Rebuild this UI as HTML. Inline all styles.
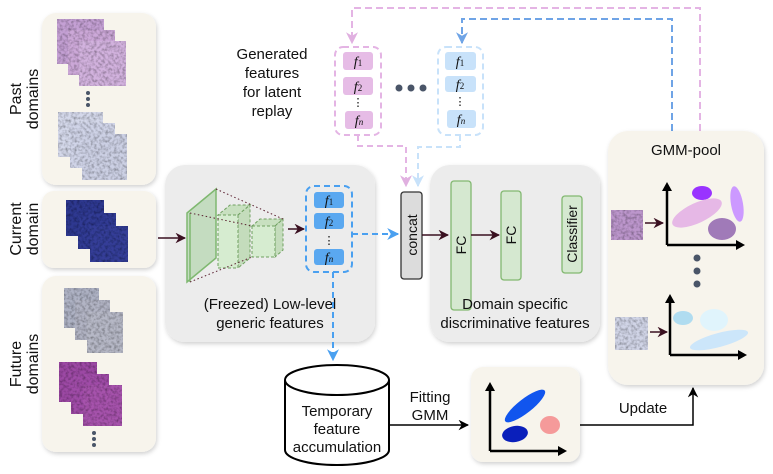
<!DOCTYPE html>
<html><head><meta charset="utf-8"><style>
html,body{margin:0;padding:0;background:#fff}
svg{display:block;font-family:"Liberation Sans",sans-serif}
</style></head><body>
<svg width="773" height="474" viewBox="0 0 773 474" xmlns="http://www.w3.org/2000/svg">
<defs>
<filter id="sh" x="-10%" y="-10%" width="120%" height="120%"><feDropShadow dx="1" dy="2" stdDeviation="2" flood-opacity="0.18"/></filter>
<filter id="tex" x="0" y="0" width="100%" height="100%"><feTurbulence type="fractalNoise" baseFrequency="0.35" numOctaves="2" seed="3"/><feColorMatrix type="matrix" values="0 0 0 0 0  0 0 0 0 0  0 0 0 0 0  0 0 0 -1.2 0.75"/><feComposite in2="SourceGraphic" operator="in"/><feBlend in="SourceGraphic" mode="multiply"/></filter>
<marker id="ad" viewBox="0 0 10 10" refX="9" refY="5" markerWidth="7" markerHeight="7" orient="auto"><path d="M0,0 L10,5 L0,10 L3,5z" fill="#3a1020"/></marker>
<marker id="ak" viewBox="0 0 10 10" refX="9" refY="5" markerWidth="7" markerHeight="7" orient="auto"><path d="M0,0 L10,5 L0,10 L3,5z" fill="#000"/></marker>
<marker id="ab" viewBox="0 0 10 10" refX="9" refY="5" markerWidth="6" markerHeight="6" orient="auto"><path d="M0,0 L10,5 L0,10 L3,5z" fill="#4aa0f0"/></marker>
<marker id="ap" viewBox="0 0 10 10" refX="9" refY="5" markerWidth="6" markerHeight="6" orient="auto"><path d="M0,0 L10,5 L0,10 L3,5z" fill="#e0b0e0"/></marker>
<marker id="alb" viewBox="0 0 10 10" refX="9" refY="5" markerWidth="6" markerHeight="6" orient="auto"><path d="M0,0 L10,5 L0,10 L3,5z" fill="#c8e2fa"/></marker>
<marker id="amb" viewBox="0 0 10 10" refX="9" refY="5" markerWidth="6" markerHeight="6" orient="auto"><path d="M0,0 L10,5 L0,10 L3,5z" fill="#6fa4e6"/></marker>
</defs>

<path d="M700,131 V8 H352 V43" fill="none" stroke="#e4b4e4" stroke-width="2" stroke-dasharray="7,4" marker-end="url(#ap)"/>
<path d="M672,131 V19 H462 V43" fill="none" stroke="#6fa4e6" stroke-width="2" stroke-dasharray="7,4" marker-end="url(#amb)"/>
<path d="M358,135 V146 H406 V186" fill="none" stroke="#e4b4e4" stroke-width="2" stroke-dasharray="6,4" marker-end="url(#ap)"/>
<path d="M460,135 V147 H418 V186" fill="none" stroke="#c8e2fa" stroke-width="2" stroke-dasharray="6,4" marker-end="url(#alb)"/>

<rect x="42" y="13" width="114" height="172" rx="14" fill="#f7f4ec" filter="url(#sh)"/>
<rect x="42" y="191" width="114" height="77" rx="12" fill="#f7f4ec" filter="url(#sh)"/>
<rect x="42" y="276" width="114" height="176" rx="14" fill="#f7f4ec" filter="url(#sh)"/>
<g font-size="16" fill="#111" text-anchor="middle">
<text transform="translate(21,99) rotate(-90)">Past</text>
<text transform="translate(38,99) rotate(-90)">domains</text>
<text transform="translate(21,229) rotate(-90)">Current</text>
<text transform="translate(38,229) rotate(-90)">domain</text>
<text transform="translate(21,364) rotate(-90)">Future</text>
<text transform="translate(38,364) rotate(-90)">domains</text>
</g>
<g filter="url(#tex)">
<rect x="57" y="19" width="47" height="45" fill="#c4a0d4"/><rect x="68" y="30" width="47" height="45" fill="#cca8d8"/><rect x="79" y="41" width="47" height="45" fill="#d2b2de"/>
<rect x="58" y="112" width="45" height="45" fill="#d4d8ea"/><rect x="70" y="123" width="45" height="45" fill="#d0d4e8"/><rect x="82" y="134" width="45" height="46" fill="#ccd0e4"/>
<rect x="66" y="200" width="38" height="36" fill="#2e3890"/><rect x="78" y="213" width="38" height="36" fill="#303a94"/><rect x="90" y="226" width="38" height="36" fill="#343e98"/>
<rect x="64" y="288" width="35" height="40" fill="#aeb2c4"/><rect x="75" y="300" width="35" height="40" fill="#b2b4c4"/><rect x="87" y="312" width="36" height="41" fill="#b6b8c6"/>
<rect x="59" y="362" width="38" height="40" fill="#9c48a4"/><rect x="71" y="374" width="38" height="40" fill="#a04ca8"/><rect x="83" y="385" width="39" height="41" fill="#a652ac"/>
</g>
<g fill="#4a5568"><circle cx="88" cy="93" r="2"/><circle cx="88" cy="99" r="2"/><circle cx="88" cy="105" r="2"/>
<circle cx="94" cy="433" r="2"/><circle cx="94" cy="439" r="2"/><circle cx="94" cy="445" r="2"/></g>

<rect x="165" y="165" width="210" height="177" rx="20" fill="#ececec" filter="url(#sh)"/>
<line x1="158" y1="238" x2="185" y2="238" stroke="#3a1020" stroke-width="1.5" marker-end="url(#ad)"/>
<polygon points="187,213 216,189 216,258 187,282" fill="#c4dcc0" stroke="#7fb870" stroke-width="1.5"/>
<line x1="190" y1="213" x2="190" y2="282" stroke="#7fb870" stroke-width="1.5"/>
<g stroke="#6fa060" stroke-width="1" stroke-dasharray="3,2" fill="#d6ecd0">
<polygon points="218,215 238,215 250,205 230,205" fill="#c8e0c0"/>
<polygon points="238,215 250,205 250,258 238,268" fill="#c4dcbc"/>
<rect x="218" y="215" width="20" height="53"/>
<polygon points="252,226 275,226 283,219 260,219" fill="#c8e0c0"/>
<polygon points="275,226 283,219 283,250 275,257" fill="#c4dcbc"/>
<rect x="252" y="226" width="23" height="31"/>
</g>
<g stroke="#5a2030" stroke-width="1" stroke-dasharray="1.5,2.5" fill="none">
<line x1="216" y1="189" x2="283" y2="219"/><line x1="190" y1="213" x2="252" y2="226"/><line x1="190" y1="282" x2="252" y2="257"/>
</g>
<line x1="288" y1="229" x2="304" y2="229" stroke="#3a1020" stroke-width="1.5" marker-end="url(#ad)"/>
<rect x="306" y="186" width="46" height="86" rx="8" fill="none" stroke="#4aa0f0" stroke-width="2" stroke-dasharray="6,4"/>
<g fill="#5aa8f0"><rect x="314" y="192" width="30" height="16" rx="3"/><rect x="314" y="213" width="30" height="16" rx="3"/><rect x="314" y="249" width="30" height="16" rx="3"/></g>
<g font-family="Liberation Serif,serif" font-style="italic" font-size="14" fill="#111" text-anchor="middle">
<text x="329" y="205">f<tspan font-size="9" font-style="normal">1</tspan></text>
<text x="329" y="226">f<tspan font-size="9" font-style="normal">2</tspan></text>
<text x="329" y="262">f<tspan font-size="9">n</tspan></text>
</g>
<text x="329" y="244" font-size="11" text-anchor="middle">⋮</text>
<text x="270" y="309" font-size="15" text-anchor="middle" fill="#111">(Freezed) Low-level</text>
<text x="270" y="328" font-size="15" text-anchor="middle" fill="#111">generic features</text>
<path d="M352,234 H398" stroke="#4aa0f0" stroke-width="2" stroke-dasharray="6,4" fill="none" marker-end="url(#ab)"/>
<path d="M333,272 V360" stroke="#4aa0f0" stroke-width="2" stroke-dasharray="6,4" fill="none" marker-end="url(#ab)"/>

<g font-size="15" text-anchor="middle" fill="#111">
<text x="272" y="59">Generated</text><text x="272" y="78">features</text><text x="272" y="97">for latent</text><text x="272" y="116">replay</text></g>
<rect x="335" y="47" width="46" height="88" rx="8" fill="none" stroke="#e4b4e4" stroke-width="2" stroke-dasharray="6,4"/>
<g fill="#e6bce6"><rect x="343" y="52" width="30" height="18" rx="3"/><rect x="343" y="77" width="30" height="18" rx="3"/><rect x="345" y="111" width="28" height="18" rx="3"/></g>
<rect x="438" y="47" width="45" height="88" rx="8" fill="none" stroke="#c8e2fa" stroke-width="2" stroke-dasharray="6,4"/>
<g fill="#c8e2fa"><rect x="445" y="52" width="31" height="18" rx="3"/><rect x="445" y="76" width="31" height="16" rx="3"/><rect x="447" y="110" width="29" height="18" rx="3"/></g>
<g font-family="Liberation Serif,serif" font-style="italic" font-size="14" fill="#111" text-anchor="middle">
<text x="358" y="66">f<tspan font-size="9" font-style="normal">1</tspan></text>
<text x="358" y="91">f<tspan font-size="9" font-style="normal">2</tspan></text>
<text x="359" y="125">f<tspan font-size="9">n</tspan></text>
<text x="460" y="66">f<tspan font-size="9" font-style="normal">1</tspan></text>
<text x="460" y="89">f<tspan font-size="9" font-style="normal">2</tspan></text>
<text x="461" y="124">f<tspan font-size="9">n</tspan></text>
</g>
<text x="358" y="106" font-size="11" text-anchor="middle">⋮</text>
<text x="460" y="105" font-size="11" text-anchor="middle">⋮</text>
<g fill="#4a5568"><circle cx="399" cy="88" r="3.5"/><circle cx="411" cy="88" r="3.5"/><circle cx="423" cy="88" r="3.5"/>
<circle cx="533" cy="235" r="3.5"/><circle cx="545" cy="235" r="3.5"/><circle cx="557" cy="235" r="3.5"/></g>

<rect x="401" y="192" width="21" height="87" rx="3" fill="#dcdcdc" stroke="#333" stroke-width="1.3"/>
<text transform="translate(417,235) rotate(-90)" font-size="14" text-anchor="middle" fill="#111">concat</text>

<rect x="430" y="165" width="170" height="177" rx="20" fill="#ececec" filter="url(#sh)"/>
<line x1="422" y1="235" x2="448" y2="235" stroke="#3a1020" stroke-width="1.5" marker-end="url(#ad)"/>
<rect x="451" y="181" width="20" height="129" rx="3" fill="#d5e8d0" stroke="#82b870" stroke-width="1.3"/>
<rect x="501" y="191" width="20" height="89" rx="3" fill="#d5e8d0" stroke="#82b870" stroke-width="1.3"/>
<rect x="562" y="196" width="20" height="77" rx="3" fill="#d5e8d0" stroke="#82b870" stroke-width="1.3"/>
<line x1="471" y1="235" x2="499" y2="235" stroke="#3a1020" stroke-width="1.5" marker-end="url(#ad)"/>
<g font-size="14" text-anchor="middle" fill="#111">
<text transform="translate(466,245) rotate(-90)">FC</text>
<text transform="translate(516,235) rotate(-90)">FC</text>
<text transform="translate(577,234) rotate(-90)">Classifier</text>
</g>
<text x="515" y="309" font-size="15" text-anchor="middle" fill="#111">Domain specific</text>
<text x="515" y="328" font-size="15" text-anchor="middle" fill="#111">discriminative features</text>

<rect x="608" y="131" width="156" height="254" rx="20" fill="#f7f4ec" filter="url(#sh)"/>
<text x="686" y="155" font-size="15" text-anchor="middle" fill="#111">GMM-pool</text>
<g filter="url(#tex)"><rect x="611" y="210" width="32" height="30" fill="#bc96cc"/><rect x="615" y="317" width="33" height="33" fill="#d0d4e6"/></g>
<line x1="645" y1="223" x2="663" y2="223" stroke="#3a1020" stroke-width="1.5" marker-end="url(#ad)"/>
<line x1="650" y1="332" x2="667" y2="332" stroke="#3a1020" stroke-width="1.5" marker-end="url(#ad)"/>
<ellipse cx="702" cy="193" rx="10" ry="7" fill="#9933ff"/>
<ellipse cx="697" cy="213" rx="27" ry="10" transform="rotate(-25 697 213)" fill="#e6b8e6"/>
<ellipse cx="737" cy="204" rx="6" ry="18" transform="rotate(-10 737 204)" fill="#cc99ff"/>
<ellipse cx="722" cy="229" rx="14" ry="11" fill="#a07ab8"/>
<path d="M667,245 V186 M667,245 H740" stroke="#000" stroke-width="2.5" fill="none"/>
<path d="M667,182 l-5,9 h10z M745,245 l-9,-5 v10z" fill="#000"/>
<g fill="#4a5568"><circle cx="697" cy="258" r="3.5"/><circle cx="697" cy="271" r="3.5"/><circle cx="697" cy="284" r="3.5"/></g>
<ellipse cx="683" cy="318" rx="10" ry="7" fill="#b0dcf0"/>
<ellipse cx="714" cy="320" rx="14" ry="11" fill="#e0f4fc"/>
<ellipse cx="719" cy="340" rx="30" ry="7" transform="rotate(-15 719 340)" fill="#cce6fa"/>
<path d="M670,355 V298 M670,355 H742" stroke="#000" stroke-width="2.5" fill="none"/>
<path d="M670,294 l-5,9 h10z M747,355 l-9,-5 v10z" fill="#000"/>

<path d="M285,380 V450 A52,15 0 0 0 389,450 V380" fill="#fff" stroke="#000" stroke-width="2"/>
<ellipse cx="337" cy="380" rx="52" ry="15" fill="#fff" stroke="#000" stroke-width="2"/>
<g font-size="15" text-anchor="middle" fill="#111">
<text x="337" y="416">Temporary</text><text x="337" y="434">feature</text><text x="337" y="452">accumulation</text></g>
<text x="430" y="402" font-size="15" text-anchor="middle" fill="#111">Fitting</text>
<text x="430" y="420" font-size="15" text-anchor="middle" fill="#111">GMM</text>
<line x1="389" y1="425" x2="468" y2="425" stroke="#000" stroke-width="1.5" marker-end="url(#ak)"/>

<rect x="471" y="367" width="109" height="95" rx="12" fill="#f7f4ec" filter="url(#sh)"/>
<ellipse cx="525" cy="406" rx="25" ry="7" transform="rotate(-38 525 406)" fill="#1155ee"/>
<ellipse cx="515" cy="434" rx="13" ry="8" transform="rotate(-10 515 434)" fill="#0a1fbb"/>
<ellipse cx="550" cy="425" rx="10" ry="9" fill="#f59a9a"/>
<path d="M490,451 V386 M490,451 H562" stroke="#000" stroke-width="2.5" fill="none"/>
<path d="M490,382 l-5,9 h10z M567,451 l-9,-5 v10z" fill="#000"/>
<text x="643" y="413" font-size="15" text-anchor="middle" fill="#111">Update</text>
<path d="M580,425 H693 V388" stroke="#000" stroke-width="1.5" fill="none" marker-end="url(#ak)"/>
</svg>
</body></html>
